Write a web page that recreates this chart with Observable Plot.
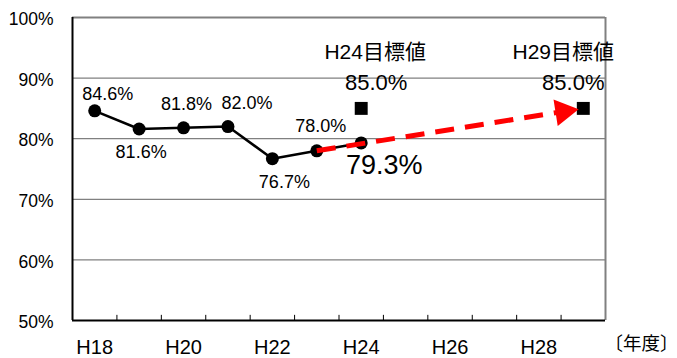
<!DOCTYPE html>
<html>
<head>
<meta charset="utf-8">
<script src="https://cdn.jsdelivr.net/npm/d3@7"></script>
<script src="https://cdn.jsdelivr.net/npm/@observablehq/plot@0.6"></script>
<style>
  html, body { margin: 0; padding: 0; background: #fff; }
  svg { font-family: "Liberation Sans", Arial, "Noto Sans CJK JP", sans-serif; }
</style>
</head>
<body>
<div id="chart"></div>
<script>
// Data
const years = [18, 19, 20, 21, 22, 23, 24];
const rates = [84.6, 81.6, 81.8, 82.0, 76.7, 78.0, 79.3];
const rateLabels = ["84.6%", "81.6%", "81.8%", "82.0%", "76.7%", "78.0%", "79.3%"];
const targetYears = [24, 29];
const targetValues = [85.0, 85.0];
const targetTitles = ["H24目標値", "H29目標値"];
const targetLabels = ["85.0%", "85.0%"];
const xTickYears = [18, 20, 22, 24, 26, 28];
const xTickLabels = ["H18", "H20", "H22", "H24", "H26", "H28"];
const yTicks = [50, 60, 70, 80, 90, 100];
const yTickLabels = ["50%", "60%", "70%", "80%", "90%", "100%"];
const unitLabel = "〔年度〕";

const series = years.map((y, i) => ({year: y, rate: rates[i], label: rateLabels[i]}));
const targets = targetYears.map((y, i) => ({year: y, value: targetValues[i], title: targetTitles[i], label: targetLabels[i]}));

// label offsets (style only)
const offX = [13, 2, 3, 19, 12, 4, 23];
const offY = [-17, 23, -24, -23, 24, -25, 22];
const labelSize = [18, 18, 18, 18, 18, 18, 27];
const titleDx = [14, -20];
const valueDx = [15, -10];

const xMin = years[0] - 0.5, xMax = targetYears[1] + 0.5;
const boundaries = d3.range(years[0] + 0.5, targetYears[1], 1);

// arrow from H23 actual to H29 target
const start = series[5];
const end = targets[1];
const arrowData = [{x1: start.year, y1: start.rate, x2: end.year, y2: end.value}];
const tHead = 0.925;
const headData = [{x: start.year + (end.year - start.year) * tHead, y: start.rate + (end.value - start.rate) * tHead}];

const fmtX = d => xTickLabels[xTickYears.indexOf(d)];
const fmtY = d => yTickLabels[yTicks.indexOf(d)];

const rateTextMarks = series.map((d, i) =>
  Plot.text([d], {x: "year", y: "rate", text: "label", dx: offX[i], dy: offY[i], fontSize: labelSize[i], fill: "#000"})
);
const targetTextMarks = targets.flatMap((d, i) => [
  Plot.text([d], {x: "year", y: "value", text: "title", dx: titleDx[i], dy: -56, fontSize: 21, fill: "#000"}),
  Plot.text([d], {x: "year", y: "value", text: "label", dx: valueDx[i], dy: -25, fontSize: 22, fill: "#000"})
]);

const chart = Plot.plot({
  width: 677,
  height: 358,
  marginLeft: 72,
  marginRight: 72,
  marginTop: 17,
  marginBottom: 38,
  style: {fontFamily: '"Liberation Sans", Arial, "Noto Sans CJK JP", sans-serif', background: "#fff", overflow: "visible"},
  x: {type: "linear", domain: [xMin, xMax], axis: null},
  y: {domain: [50, 100], axis: null},
  marks: [
    Plot.ruleY(yTicks.filter(d => d > 50 && d < 100), {stroke: "#808080", strokeWidth: 1.2}),
    Plot.ruleY([100], {stroke: "#808080", strokeWidth: 2}),
    Plot.ruleX([xMax], {stroke: "#808080", strokeWidth: 2}),
    Plot.ruleX([xMin], {stroke: "#000", strokeWidth: 2}),
    Plot.ruleY([50], {stroke: "#000", strokeWidth: 2}),
    Plot.ruleX(boundaries, {y1: 50, y2: 50.85, stroke: "#000", strokeWidth: 1}),
    Plot.axisY({ticks: yTicks, tickFormat: fmtY, tickSize: 0, tickPadding: 19, fontSize: 17.5, dy: 2, color: "#000"}),
    Plot.axisX({ticks: xTickYears, tickFormat: fmtX, tickSize: 0, tickPadding: 19, fontSize: 20, color: "#000"}),
    Plot.text([unitLabel], {frameAnchor: "bottom-right", dx: -1, dy: 29, text: d => d, fontSize: 18.5, textAnchor: "start", fill: "#000"}),
    Plot.line(series, {x: "year", y: "rate", stroke: "#000", strokeWidth: 2.5}),
    Plot.dot(series, {x: "year", y: "rate", r: 6.5, fill: "#000", stroke: "none"}),
    Plot.dot(targets, {x: "year", y: "value", symbol: "square", r: 7.3, fill: "#000", stroke: "none"}),
    Plot.arrow(arrowData, {x1: "x1", y1: "y1", x2: "x2", y2: "y2", insetEnd: 27, headLength: 0, stroke: "#ff0000", strokeWidth: 5, strokeDasharray: "19,11", strokeLinecap: "butt"}),
    Plot.dot(headData, {x: "x", y: "y", symbol: "triangle", r: 10, fill: "#ff0000", stroke: "none", rotate: 81}),
    ...rateTextMarks,
    ...targetTextMarks
  ]
});
document.getElementById("chart").appendChild(chart);
</script>
</body>
</html>
